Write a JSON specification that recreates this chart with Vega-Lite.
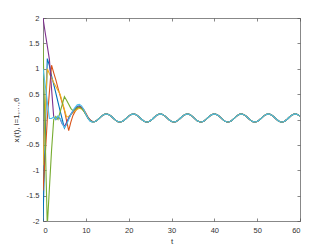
{
"$schema":"https://vega.github.io/schema/vega-lite/v6.json",
"width":257,"height":203,
"autosize":{"type":"none"},
"padding":{"left":43,"top":18,"right":32,"bottom":28},
"background":"white",
"config":{"view":{"stroke":null},"axis":{"grid":false,"domainColor":"#555555","tickColor":"#555555","labelColor":"#333333","titleColor":"#333333","labelFont":"Liberation Sans","titleFont":"Liberation Sans","labelFontSize":7.5,"titleFontSize":8,"titleFontWeight":"normal","domainWidth":0.7,"tickWidth":0.7,"tickSize":-3}},
"data":{"values":[
{"t":0,"x1":-2.0,"x2":-1.4,"x3":-0.9,"x4":2.0,"x5":1.5,"x6":1.0},
{"t":0.5,"x1":-0.4,"x2":-0.75,"x3":0.1,"x4":1.72,"x5":-0.3,"x6":0.7},
{"t":1,"x1":1.2,"x2":0.0,"x3":1.0,"x4":1.45,"x5":-2.1,"x6":0.35},
{"t":1.5,"x1":1.06,"x2":0.55,"x3":0.9,"x4":1.18,"x5":-1.35,"x6":0.02},
{"t":2,"x1":0.86,"x2":1.07,"x3":0.82,"x4":0.6,"x5":-0.6,"x6":0.02},
{"t":2.5,"x1":0.69,"x2":0.92,"x3":0.73,"x4":0.05,"x5":0.0,"x6":0.05},
{"t":3,"x1":0.52,"x2":0.78,"x3":0.65,"x4":0.0,"x5":0.06,"x6":0.0},
{"t":3.5,"x1":0.34,"x2":0.62,"x3":0.57,"x4":0.06,"x5":0.0,"x6":0.07},
{"t":4,"x1":0.17,"x2":0.47,"x3":0.5,"x4":0.01,"x5":0.15,"x6":0.02},
{"t":4.5,"x1":0.0,"x2":0.32,"x3":0.35,"x4":-0.09,"x5":0.3,"x6":-0.08},
{"t":5,"x1":-0.17,"x2":0.18,"x3":0.2,"x4":-0.14,"x5":0.45,"x6":-0.16},
{"t":5.5,"x1":-0.08,"x2":-0.02,"x3":0.05,"x4":-0.06,"x5":0.38,"x6":-0.1},
{"t":6,"x1":0.02,"x2":-0.22,"x3":0.06,"x4":0.03,"x5":0.3,"x6":0.0},
{"t":6.5,"x1":0.1,"x2":-0.05,"x3":0.1,"x4":0.1,"x5":0.22,"x6":0.1},
{"t":7,"x1":0.17,"x2":0.08,"x3":0.13,"x4":0.16,"x5":0.17,"x6":0.18},
{"t":7.5,"x1":0.22,"x2":0.16,"x3":0.17,"x4":0.2,"x5":0.2,"x6":0.24},
{"t":8,"x1":0.26,"x2":0.22,"x3":0.2,"x4":0.24,"x5":0.23,"x6":0.29},
{"t":8.5,"x1":0.27,"x2":0.25,"x3":0.22,"x4":0.25,"x5":0.24,"x6":0.3},
{"t":9,"x1":0.24,"x2":0.24,"x3":0.21,"x4":0.23,"x5":0.22,"x6":0.27},
{"t":9.5,"x1":0.18,"x2":0.2,"x3":0.17,"x4":0.18,"x5":0.17,"x6":0.2},
{"t":10,"x1":0.1,"x2":0.13,"x3":0.11,"x4":0.11,"x5":0.1,"x6":0.11},
{"t":10.5,"x1":0.02,"x2":0.05,"x3":0.04,"x4":0.04,"x5":0.03,"x6":0.03},
{"t":11,"x1":-0.03,"x2":-0.01,"x3":-0.01,"x4":-0.01,"x5":-0.02,"x6":-0.03},
{"t":11.5,"x1":-0.05,"x2":-0.04,"x3":-0.04,"x4":-0.04,"x5":-0.05,"x6":-0.05},
{"t":12,"x1":-0.045,"x2":-0.045,"x3":-0.045,"x4":-0.045,"x5":-0.045,"x6":-0.045},
{"t":12.5,"x1":-0.023,"x2":-0.023,"x3":-0.023,"x4":-0.023,"x5":-0.023,"x6":-0.023},
{"t":13,"x1":0.012,"x2":0.012,"x3":0.012,"x4":0.012,"x5":0.012,"x6":0.012},
{"t":13.5,"x1":0.052,"x2":0.052,"x3":0.052,"x4":0.052,"x5":0.052,"x6":0.052},
{"t":14,"x1":0.086,"x2":0.086,"x3":0.086,"x4":0.086,"x5":0.086,"x6":0.086},
{"t":14.5,"x1":0.106,"x2":0.106,"x3":0.106,"x4":0.106,"x5":0.106,"x6":0.106},
{"t":15,"x1":0.108,"x2":0.108,"x3":0.108,"x4":0.108,"x5":0.108,"x6":0.108},
{"t":15.5,"x1":0.091,"x2":0.091,"x3":0.091,"x4":0.091,"x5":0.091,"x6":0.091},
{"t":16,"x1":0.059,"x2":0.059,"x3":0.059,"x4":0.059,"x5":0.059,"x6":0.059},
{"t":16.5,"x1":0.02,"x2":0.02,"x3":0.02,"x4":0.02,"x5":0.02,"x6":0.02},
{"t":17,"x1":-0.017,"x2":-0.017,"x3":-0.017,"x4":-0.017,"x5":-0.017,"x6":-0.017},
{"t":17.5,"x1":-0.042,"x2":-0.042,"x3":-0.042,"x4":-0.042,"x5":-0.042,"x6":-0.042},
{"t":18,"x1":-0.05,"x2":-0.05,"x3":-0.05,"x4":-0.05,"x5":-0.05,"x6":-0.05},
{"t":18.5,"x1":-0.038,"x2":-0.038,"x3":-0.038,"x4":-0.038,"x5":-0.038,"x6":-0.038},
{"t":19,"x1":-0.01,"x2":-0.01,"x3":-0.01,"x4":-0.01,"x5":-0.01,"x6":-0.01},
{"t":19.5,"x1":0.028,"x2":0.028,"x3":0.028,"x4":0.028,"x5":0.028,"x6":0.028},
{"t":20,"x1":0.066,"x2":0.066,"x3":0.066,"x4":0.066,"x5":0.066,"x6":0.066},
{"t":20.5,"x1":0.096,"x2":0.096,"x3":0.096,"x4":0.096,"x5":0.096,"x6":0.096},
{"t":21,"x1":0.11,"x2":0.11,"x3":0.11,"x4":0.11,"x5":0.11,"x6":0.11},
{"t":21.5,"x1":0.104,"x2":0.104,"x3":0.104,"x4":0.104,"x5":0.104,"x6":0.104},
{"t":22,"x1":0.08,"x2":0.08,"x3":0.08,"x4":0.08,"x5":0.08,"x6":0.08},
{"t":22.5,"x1":0.044,"x2":0.044,"x3":0.044,"x4":0.044,"x5":0.044,"x6":0.044},
{"t":23,"x1":0.005,"x2":0.005,"x3":0.005,"x4":0.005,"x5":0.005,"x6":0.005},
{"t":23.5,"x1":-0.029,"x2":-0.029,"x3":-0.029,"x4":-0.029,"x5":-0.029,"x6":-0.029},
{"t":24,"x1":-0.048,"x2":-0.048,"x3":-0.048,"x4":-0.048,"x5":-0.048,"x6":-0.048},
{"t":24.5,"x1":-0.048,"x2":-0.048,"x3":-0.048,"x4":-0.048,"x5":-0.048,"x6":-0.048},
{"t":25,"x1":-0.029,"x2":-0.029,"x3":-0.029,"x4":-0.029,"x5":-0.029,"x6":-0.029},
{"t":25.5,"x1":0.005,"x2":0.005,"x3":0.005,"x4":0.005,"x5":0.005,"x6":0.005},
{"t":26,"x1":0.044,"x2":0.044,"x3":0.044,"x4":0.044,"x5":0.044,"x6":0.044},
{"t":26.5,"x1":0.08,"x2":0.08,"x3":0.08,"x4":0.08,"x5":0.08,"x6":0.08},
{"t":27,"x1":0.104,"x2":0.104,"x3":0.104,"x4":0.104,"x5":0.104,"x6":0.104},
{"t":27.5,"x1":0.11,"x2":0.11,"x3":0.11,"x4":0.11,"x5":0.11,"x6":0.11},
{"t":28,"x1":0.096,"x2":0.096,"x3":0.096,"x4":0.096,"x5":0.096,"x6":0.096},
{"t":28.5,"x1":0.066,"x2":0.066,"x3":0.066,"x4":0.066,"x5":0.066,"x6":0.066},
{"t":29,"x1":0.028,"x2":0.028,"x3":0.028,"x4":0.028,"x5":0.028,"x6":0.028},
{"t":29.5,"x1":-0.01,"x2":-0.01,"x3":-0.01,"x4":-0.01,"x5":-0.01,"x6":-0.01},
{"t":30,"x1":-0.038,"x2":-0.038,"x3":-0.038,"x4":-0.038,"x5":-0.038,"x6":-0.038},
{"t":30.5,"x1":-0.05,"x2":-0.05,"x3":-0.05,"x4":-0.05,"x5":-0.05,"x6":-0.05},
{"t":31,"x1":-0.042,"x2":-0.042,"x3":-0.042,"x4":-0.042,"x5":-0.042,"x6":-0.042},
{"t":31.5,"x1":-0.017,"x2":-0.017,"x3":-0.017,"x4":-0.017,"x5":-0.017,"x6":-0.017},
{"t":32,"x1":0.02,"x2":0.02,"x3":0.02,"x4":0.02,"x5":0.02,"x6":0.02},
{"t":32.5,"x1":0.059,"x2":0.059,"x3":0.059,"x4":0.059,"x5":0.059,"x6":0.059},
{"t":33,"x1":0.091,"x2":0.091,"x3":0.091,"x4":0.091,"x5":0.091,"x6":0.091},
{"t":33.5,"x1":0.108,"x2":0.108,"x3":0.108,"x4":0.108,"x5":0.108,"x6":0.108},
{"t":34,"x1":0.106,"x2":0.106,"x3":0.106,"x4":0.106,"x5":0.106,"x6":0.106},
{"t":34.5,"x1":0.086,"x2":0.086,"x3":0.086,"x4":0.086,"x5":0.086,"x6":0.086},
{"t":35,"x1":0.052,"x2":0.052,"x3":0.052,"x4":0.052,"x5":0.052,"x6":0.052},
{"t":35.5,"x1":0.012,"x2":0.012,"x3":0.012,"x4":0.012,"x5":0.012,"x6":0.012},
{"t":36,"x1":-0.023,"x2":-0.023,"x3":-0.023,"x4":-0.023,"x5":-0.023,"x6":-0.023},
{"t":36.5,"x1":-0.045,"x2":-0.045,"x3":-0.045,"x4":-0.045,"x5":-0.045,"x6":-0.045},
{"t":37,"x1":-0.049,"x2":-0.049,"x3":-0.049,"x4":-0.049,"x5":-0.049,"x6":-0.049},
{"t":37.5,"x1":-0.034,"x2":-0.034,"x3":-0.034,"x4":-0.034,"x5":-0.034,"x6":-0.034},
{"t":38,"x1":-0.003,"x2":-0.003,"x3":-0.003,"x4":-0.003,"x5":-0.003,"x6":-0.003},
{"t":38.5,"x1":0.036,"x2":0.036,"x3":0.036,"x4":0.036,"x5":0.036,"x6":0.036},
{"t":39,"x1":0.073,"x2":0.073,"x3":0.073,"x4":0.073,"x5":0.073,"x6":0.073},
{"t":39.5,"x1":0.1,"x2":0.1,"x3":0.1,"x4":0.1,"x5":0.1,"x6":0.1},
{"t":40,"x1":0.11,"x2":0.11,"x3":0.11,"x4":0.11,"x5":0.11,"x6":0.11},
{"t":40.5,"x1":0.1,"x2":0.1,"x3":0.1,"x4":0.1,"x5":0.1,"x6":0.1},
{"t":41,"x1":0.073,"x2":0.073,"x3":0.073,"x4":0.073,"x5":0.073,"x6":0.073},
{"t":41.5,"x1":0.036,"x2":0.036,"x3":0.036,"x4":0.036,"x5":0.036,"x6":0.036},
{"t":42,"x1":-0.003,"x2":-0.003,"x3":-0.003,"x4":-0.003,"x5":-0.003,"x6":-0.003},
{"t":42.5,"x1":-0.034,"x2":-0.034,"x3":-0.034,"x4":-0.034,"x5":-0.034,"x6":-0.034},
{"t":43,"x1":-0.049,"x2":-0.049,"x3":-0.049,"x4":-0.049,"x5":-0.049,"x6":-0.049},
{"t":43.5,"x1":-0.045,"x2":-0.045,"x3":-0.045,"x4":-0.045,"x5":-0.045,"x6":-0.045},
{"t":44,"x1":-0.023,"x2":-0.023,"x3":-0.023,"x4":-0.023,"x5":-0.023,"x6":-0.023},
{"t":44.5,"x1":0.012,"x2":0.012,"x3":0.012,"x4":0.012,"x5":0.012,"x6":0.012},
{"t":45,"x1":0.052,"x2":0.052,"x3":0.052,"x4":0.052,"x5":0.052,"x6":0.052},
{"t":45.5,"x1":0.086,"x2":0.086,"x3":0.086,"x4":0.086,"x5":0.086,"x6":0.086},
{"t":46,"x1":0.106,"x2":0.106,"x3":0.106,"x4":0.106,"x5":0.106,"x6":0.106},
{"t":46.5,"x1":0.108,"x2":0.108,"x3":0.108,"x4":0.108,"x5":0.108,"x6":0.108},
{"t":47,"x1":0.091,"x2":0.091,"x3":0.091,"x4":0.091,"x5":0.091,"x6":0.091},
{"t":47.5,"x1":0.059,"x2":0.059,"x3":0.059,"x4":0.059,"x5":0.059,"x6":0.059},
{"t":48,"x1":0.02,"x2":0.02,"x3":0.02,"x4":0.02,"x5":0.02,"x6":0.02},
{"t":48.5,"x1":-0.017,"x2":-0.017,"x3":-0.017,"x4":-0.017,"x5":-0.017,"x6":-0.017},
{"t":49,"x1":-0.042,"x2":-0.042,"x3":-0.042,"x4":-0.042,"x5":-0.042,"x6":-0.042},
{"t":49.5,"x1":-0.05,"x2":-0.05,"x3":-0.05,"x4":-0.05,"x5":-0.05,"x6":-0.05},
{"t":50,"x1":-0.038,"x2":-0.038,"x3":-0.038,"x4":-0.038,"x5":-0.038,"x6":-0.038},
{"t":50.5,"x1":-0.01,"x2":-0.01,"x3":-0.01,"x4":-0.01,"x5":-0.01,"x6":-0.01},
{"t":51,"x1":0.028,"x2":0.028,"x3":0.028,"x4":0.028,"x5":0.028,"x6":0.028},
{"t":51.5,"x1":0.066,"x2":0.066,"x3":0.066,"x4":0.066,"x5":0.066,"x6":0.066},
{"t":52,"x1":0.096,"x2":0.096,"x3":0.096,"x4":0.096,"x5":0.096,"x6":0.096},
{"t":52.5,"x1":0.11,"x2":0.11,"x3":0.11,"x4":0.11,"x5":0.11,"x6":0.11},
{"t":53,"x1":0.104,"x2":0.104,"x3":0.104,"x4":0.104,"x5":0.104,"x6":0.104},
{"t":53.5,"x1":0.08,"x2":0.08,"x3":0.08,"x4":0.08,"x5":0.08,"x6":0.08},
{"t":54,"x1":0.044,"x2":0.044,"x3":0.044,"x4":0.044,"x5":0.044,"x6":0.044},
{"t":54.5,"x1":0.005,"x2":0.005,"x3":0.005,"x4":0.005,"x5":0.005,"x6":0.005},
{"t":55,"x1":-0.029,"x2":-0.029,"x3":-0.029,"x4":-0.029,"x5":-0.029,"x6":-0.029},
{"t":55.5,"x1":-0.048,"x2":-0.048,"x3":-0.048,"x4":-0.048,"x5":-0.048,"x6":-0.048},
{"t":56,"x1":-0.048,"x2":-0.048,"x3":-0.048,"x4":-0.048,"x5":-0.048,"x6":-0.048},
{"t":56.5,"x1":-0.029,"x2":-0.029,"x3":-0.029,"x4":-0.029,"x5":-0.029,"x6":-0.029},
{"t":57,"x1":0.005,"x2":0.005,"x3":0.005,"x4":0.005,"x5":0.005,"x6":0.005},
{"t":57.5,"x1":0.044,"x2":0.044,"x3":0.044,"x4":0.044,"x5":0.044,"x6":0.044},
{"t":58,"x1":0.08,"x2":0.08,"x3":0.08,"x4":0.08,"x5":0.08,"x6":0.08},
{"t":58.5,"x1":0.104,"x2":0.104,"x3":0.104,"x4":0.104,"x5":0.104,"x6":0.104},
{"t":59,"x1":0.11,"x2":0.11,"x3":0.11,"x4":0.11,"x5":0.11,"x6":0.11},
{"t":59.5,"x1":0.096,"x2":0.096,"x3":0.096,"x4":0.096,"x5":0.096,"x6":0.096},
{"t":60,"x1":0.066,"x2":0.066,"x3":0.066,"x4":0.066,"x5":0.066,"x6":0.066}
]},
"transform":[{"fold":["x1","x2","x3","x4","x5","x6"],"as":["s","x"]}],
"layer":[
{"mark":{"type":"line","strokeWidth":1.1,"clip":true},
 "encoding":{
  "x":{"field":"t","type":"quantitative","scale":{"domain":[0,60],"nice":false},"axis":{"orient":"bottom","values":[0,10,20,30,40,50,60],"title":"t","labelPadding":8,"titlePadding":4}},
  "y":{"field":"x","type":"quantitative","scale":{"domain":[-2,2],"nice":false},"axis":{"orient":"left","values":[-2,-1.5,-1,-0.5,0,0.5,1,1.5,2],"labelExpr":"''+datum.value","title":"xᵢ(t), i=1,…,6","labelPadding":7,"titlePadding":6}},
  "color":{"field":"s","type":"nominal","scale":{"domain":["x1","x2","x3","x4","x5","x6"],"range":["#0072BD","#D95319","#EDB120","#7E2F8E","#77AC30","#4DBEEE"]},"legend":null}}},
{"mark":{"type":"line","opacity":0,"clip":true},
 "encoding":{
  "x":{"field":"t","type":"quantitative","axis":{"orient":"top","values":[0,10,20,30,40,50,60],"labels":false,"title":null}},
  "y":{"field":"x","type":"quantitative","axis":{"orient":"right","values":[-2,-1.5,-1,-0.5,0,0.5,1,1.5,2],"labels":false,"title":null}},
  "detail":{"field":"s"}}}
],
"resolve":{"axis":{"x":"independent","y":"independent"}}
}
